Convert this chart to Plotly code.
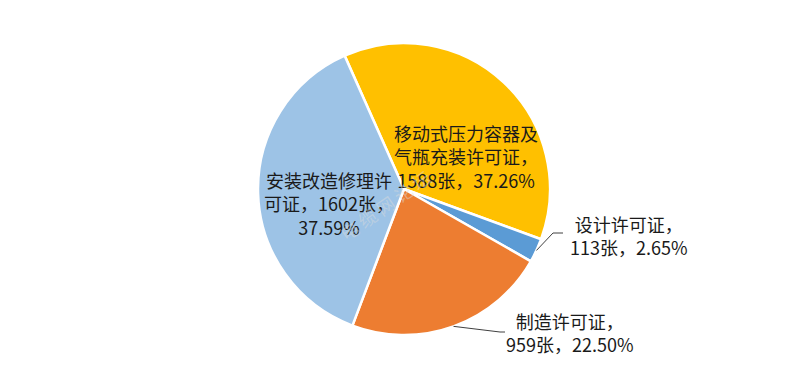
import math
import plotly.graph_objects as go

# ---- data ----
names = ["移动式压力容器及气瓶充装许可证", "设计许可证", "制造许可证", "安装改造修理许可证"]
counts = [1588, 113, 959, 1602]
percents = ["37.26%", "2.65%", "22.50%", "37.59%"]
label_texts = [
    "移动式压力容器及<br>气瓶充装许可证，<br>1588张，37.26%",
    "设计许可证，<br>113张，2.65%",
    "制造许可证，<br>959张，22.50%",
    "安装改造修理许<br>可证，1602张，<br>37.59%",
]
colors = ["#FFC000", "#5B9BD5", "#ED7D31", "#9DC3E6"]

W, H = 800, 378
OFF = 8  # page body margin
CX, CY, R = 404, 189, 146
ROT = -24


def px2paper(x, y):
    return (x - OFF) / W, 1 - (y - OFF) / H


x0, y0 = px2paper(CX - R, CY + R)
x1, y1 = px2paper(CX + R, CY - R)
fig = go.Figure(go.Pie(
    labels=names, values=counts, sort=False, direction="clockwise", rotation=ROT,
    marker=dict(colors=colors, line=dict(color="white", width=2.5)),
    textinfo="none", hoverinfo="label+value+percent", showlegend=False,
    domain=dict(x=[x0, x1], y=[y0, y1]),
))

# label positions (pixel centres)
label_pos = [(466, 156), (629, 235), (570, 332), (329, 203)]
font = dict(family="Noto Sans CJK SC, sans-serif", size=18, color="#1a1a1a")
for txt, (lx, ly) in zip(label_texts, label_pos):
    x, y = px2paper(lx, ly)
    fig.add_annotation(x=x, y=y, xref="paper", yref="paper", text=txt, showarrow=False,
                       font=font, align="center", xanchor="center", yanchor="middle")

# leader lines for outside labels, starting at each slice's mid-edge
total = sum(counts)
starts = []
acc = ROT
for v in counts:
    starts.append(acc)
    acc += v / total * 360
knees = {1: [(553, 233), (563, 233)], 2: [(500, 332), (505, 332)]}
for i, pts in knees.items():
    mid = math.radians(starts[i] + counts[i] / total * 180)
    ex, ey = CX + R * math.sin(mid), CY - R * math.cos(mid)
    path_pts = [(ex, ey)] + pts
    path = "M " + " L ".join(f"{px2paper(a, b)[0]},{px2paper(a, b)[1]}" for a, b in path_pts)
    fig.add_shape(type="path", path=path, xref="paper", yref="paper",
                  line=dict(color="#404040", width=1))

# faint watermark
wx, wy = px2paper(385, 205)
fig.add_annotation(x=wx, y=wy, xref="paper", yref="paper", text="电 缆 网 论 坛", showarrow=False,
                   textangle=-35, font=dict(family="Noto Sans CJK SC", size=18, color="rgba(220,220,220,0.45)"))

fig.update_layout(width=W, height=H, margin=dict(l=0, r=0, t=0, b=0),
                  paper_bgcolor="white", plot_bgcolor="white")
fig.write_html("out.html")
